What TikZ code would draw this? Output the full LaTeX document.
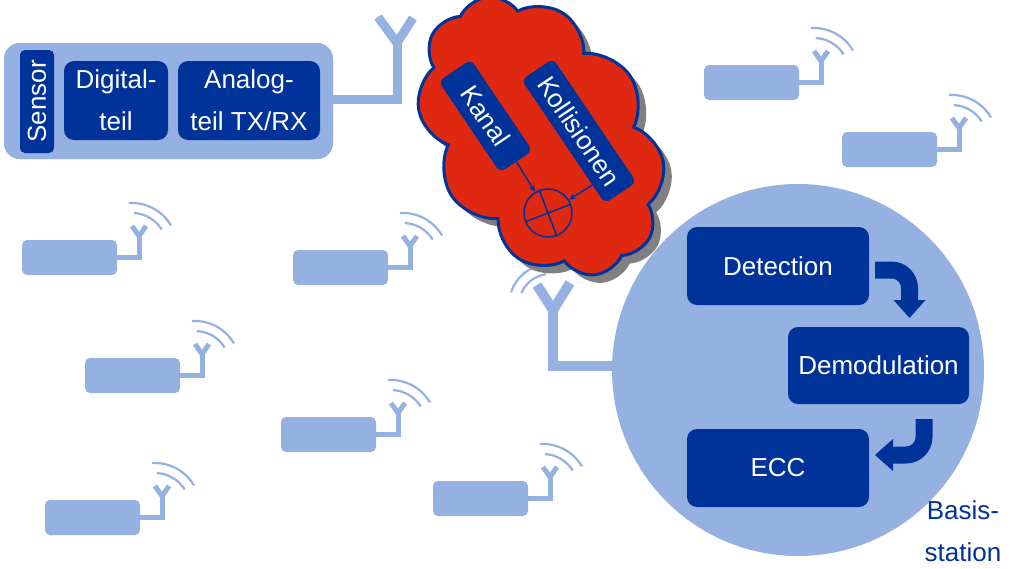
\documentclass[tikz,border=0pt]{standalone}
\usepackage{fontspec}
\setmainfont{Liberation Sans}
\usetikzlibrary{shapes.symbols,arrows.meta,calc}
\definecolor{lightblue}{RGB}{148,177,226}
\definecolor{darkblue}{RGB}{0,51,153}
\definecolor{cloudred}{RGB}{222,41,16}
\definecolor{shadowgray}{RGB}{128,128,128}
\tikzset{
  txt/.style={font=\fontsize{26}{42}\selectfont},
  darkbox/.style={txt, fill=darkblue, text=white, rounded corners=10pt,
    inner sep=0pt, outer sep=0pt, align=center},
  lightbox/.style={fill=lightblue, rounded corners=16pt, inner sep=0pt},
  ant/.style={draw=lightblue, line width=5pt},
  wave/.style={draw=lightblue, line width=2.2pt},
  bigant/.style={draw=lightblue, line width=9pt},
  cloudshape/.style={cloud, cloud puffs=10, cloud puff arc=120,
    cloud ignores aspect, minimum width=305pt, minimum height=215pt,
    inner sep=0pt, rotate=-56},
  thinarrow/.style={draw=darkblue, line width=1.5pt, -{Stealth[length=7pt,width=6pt]}},
  bentarrow/.style={draw=darkblue, line width=17pt, rounded corners=18pt,
    -{Triangle[width=32pt,length=18pt,line width=0pt]}},
  pics/sensornode/.style={code={
    \draw[ant] (80,-17.5) -- (117,-17.5) -- (117,4);
    \draw[ant] (110,14) -- (117,4) -- (124,14);
    \draw[wave] (110,-8) ++(87:35) arc[start angle=87,end angle=32,radius=35];
    \draw[wave] (110,-8) ++(94:45) arc[start angle=94,end angle=30,radius=45];
    \fill[lightblue, rounded corners=5pt] (0,0) rectangle (95,-35);
  }}
}
\begin{document}
\begin{tikzpicture}[x=1pt,y=1pt]
\useasboundingbox (0,0) rectangle (1010,-568);

% scattered sensor nodes
\pic at (704,-65) {sensornode};
\pic at (842,-132) {sensornode};
\pic at (22,-240) {sensornode};
\pic at (293,-250) {sensornode};
\pic at (85,-358) {sensornode};
\pic at (281,-417) {sensornode};
\pic at (45,-500) {sensornode};
\pic at (433,-481) {sensornode};

% detailed sensor node
\node[lightbox, minimum width=329pt, minimum height=116pt] (sensorbox) at (168.5,-101) {};
\draw[bigant] ([xshift=-10pt,yshift=2pt]sensorbox.east) -| (397,-43);
\draw[bigant] (378,-17) -- (397,-43) -- (413,-18);
\node[lightbox, minimum width=329pt, minimum height=116pt] at (sensorbox.center) {};
\node[darkbox, rounded corners=5pt, rotate=90, minimum width=103pt, minimum height=34pt] (sensor) at (37,-101.5) {Sensor};
\node[darkbox, minimum width=104pt, minimum height=79pt] (digital) at (116,-100.5) {Digital-\\teil};
\node[darkbox, minimum width=142pt, minimum height=79pt] (analog) at (249,-100.5) {Analog-\\teil TX/RX};

% base station
\draw[bigant, line width=10pt] (537,-285) -- (553,-310) -- (570,-283);
\draw[bigant, line width=10pt] (553,-310) |- (680,-366);
\draw[wave] (550,-305) ++(157.5:31) arc[start angle=157.5,end angle=97,radius=31];
\draw[wave] (550,-305) ++(162:41) arc[start angle=162,end angle=98,radius=41];
\node[circle, fill=lightblue, minimum size=372pt, inner sep=0pt] (bs) at (798,-370) {};
\node[darkbox, minimum width=182pt, minimum height=78pt] (detect) at (778,-266) {Detection};
\node[darkbox, minimum width=181pt, minimum height=77pt] (demod) at (878.5,-365.5) {Demodulation};
\node[darkbox, minimum width=182pt, minimum height=78pt] (ecc) at (778,-468) {ECC};
\draw[bentarrow] ([xshift=6pt,yshift=-4pt]detect.east) -| ([xshift=31pt,yshift=9pt]demod.north);
\draw[bentarrow] ([xshift=45.5pt,yshift=-15pt]demod.south) |- ([xshift=6pt,yshift=13pt]ecc.east);
\node[txt, text=darkblue, align=center, anchor=south, inner sep=0pt] (bslabel) at (963,-562) {Basis-\\station};

% channel cloud
\node[cloudshape, fill=shadowgray] (cloudshadow) at (549,-144) {};
\node[cloudshape, fill=cloudred, draw=darkblue, line width=3pt] (cloud) at (541,-136) {};
\node[darkbox, rounded corners=6pt, rotate=-56, minimum width=110pt, minimum height=39pt] (kanal) at (485.5,-116) {Kanal};
\node[darkbox, rounded corners=6pt, rotate=-56, minimum width=149pt, minimum height=38pt] (koll) at (579,-131) {Kollisionen};
\node[circle, draw=darkblue, line width=1.5pt, minimum size=48pt, inner sep=0pt] (sum) at (548,-213) {};
\draw[darkblue, line width=1.5pt] (sum.21) -- (sum.201) (sum.111) -- (sum.291);
\draw[thinarrow] (kanal.east) -- (sum);
\draw[thinarrow] ($(koll.south east)!0.15!(koll.south west)$) -- (sum);
\end{tikzpicture}
\end{document}
